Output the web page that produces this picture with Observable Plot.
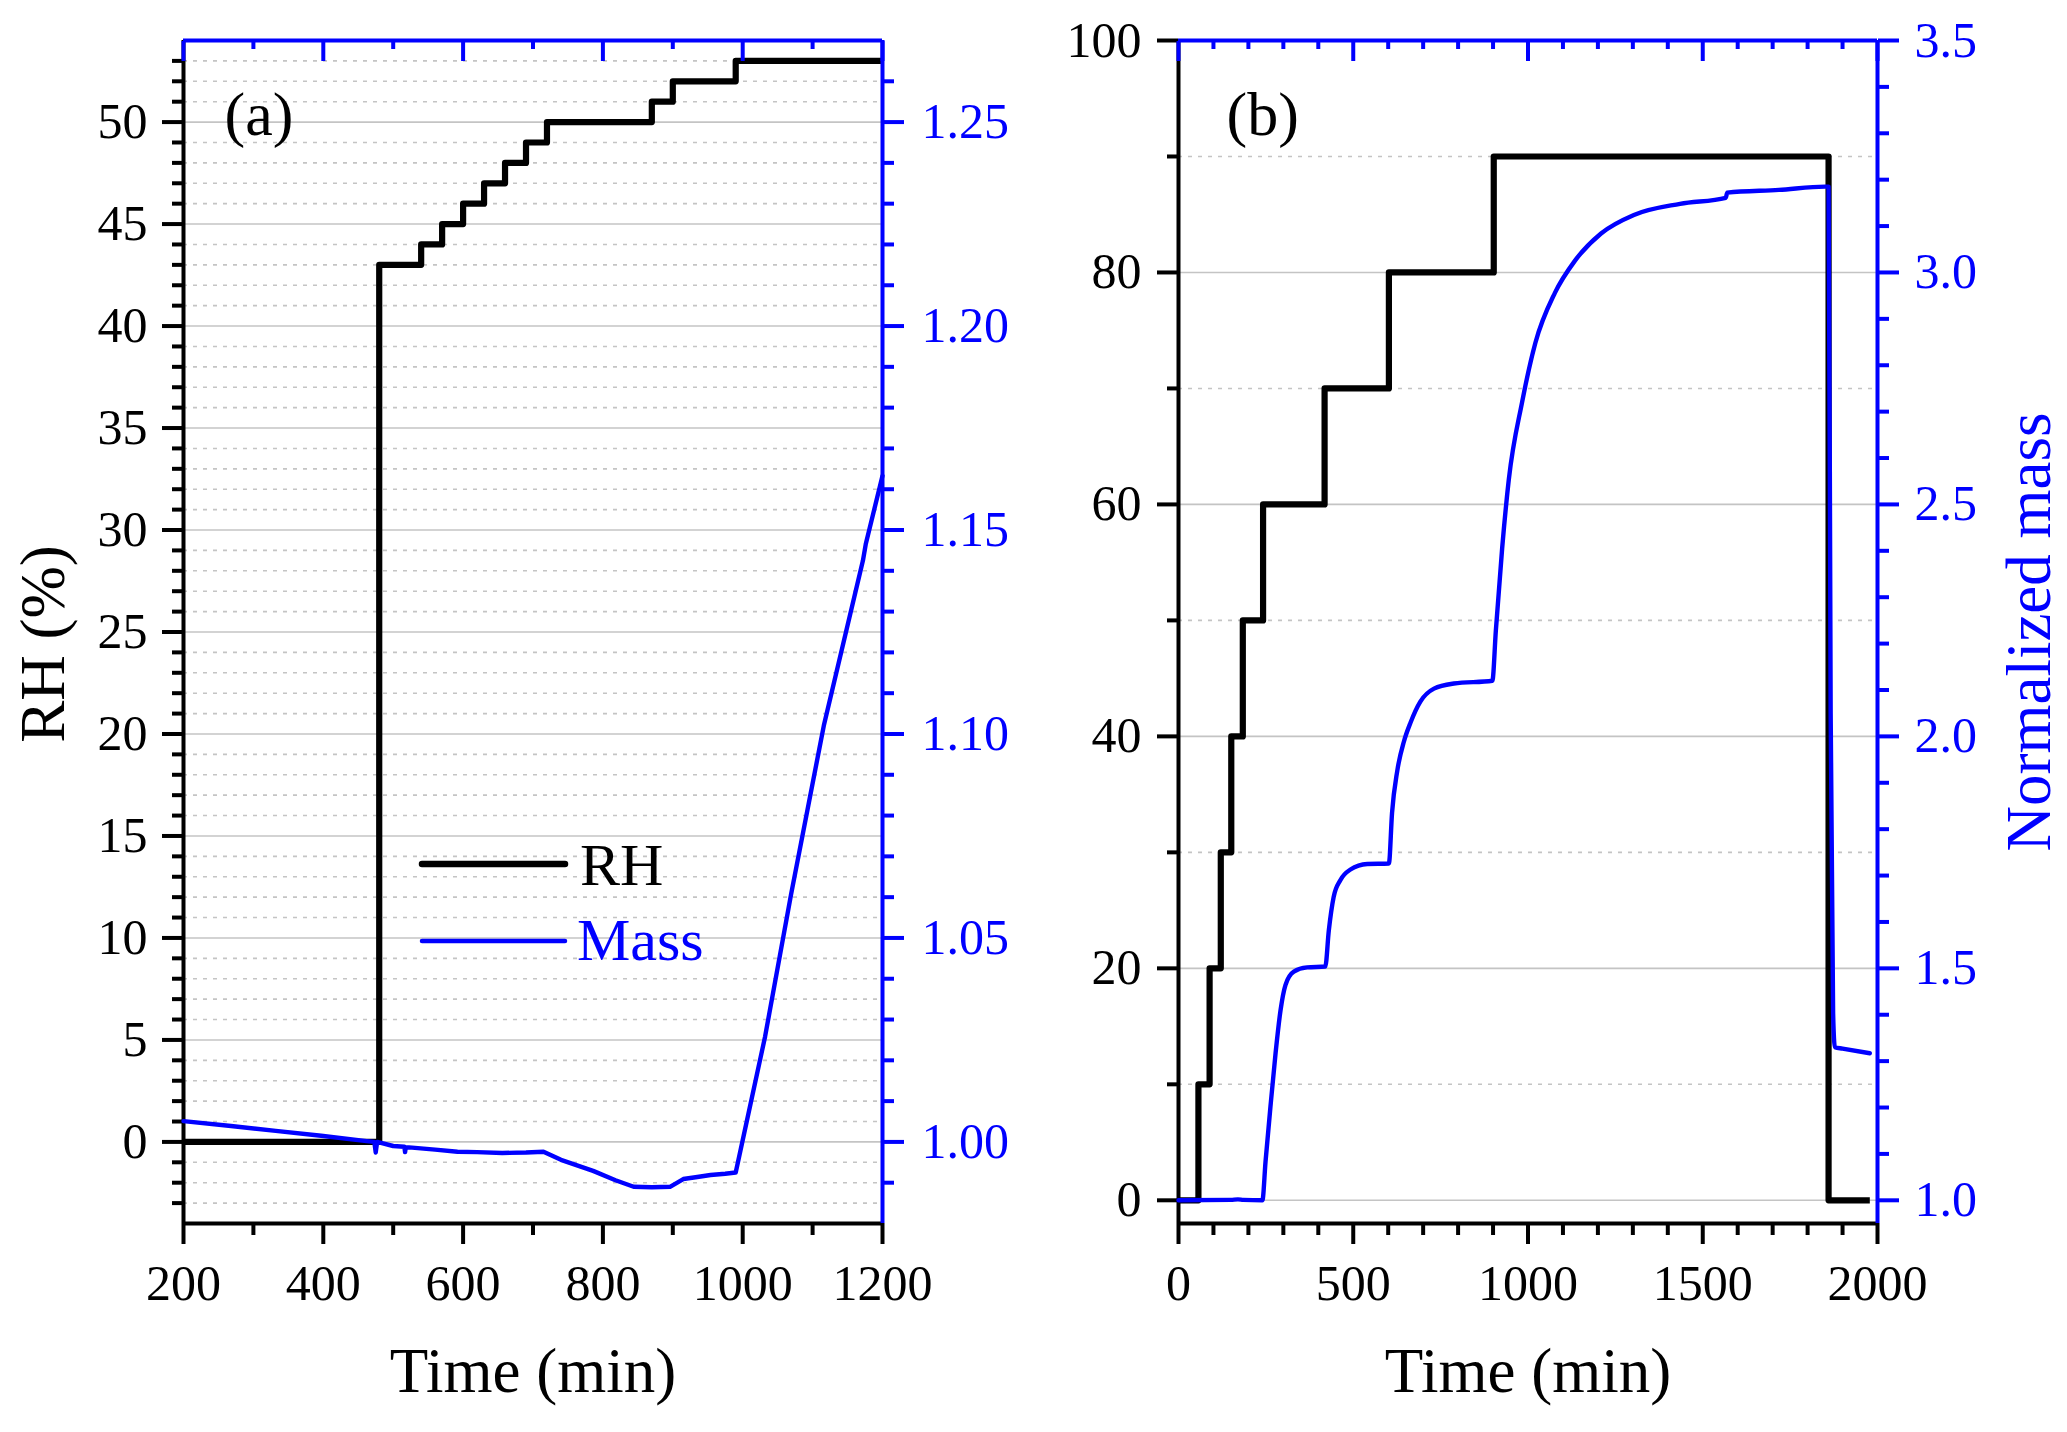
<!DOCTYPE html>
<html>
<head>
<meta charset="utf-8">
<script src="https://cdn.jsdelivr.net/npm/d3@7"></script>
<script src="https://cdn.jsdelivr.net/npm/@observablehq/plot@0.6"></script>
<style>
  body { margin: 0; background: #fff; }
  #figure { position: relative; width: 2067px; height: 1432px; overflow: hidden; }
  .layer { position: absolute; top: 0; }
  .layer svg { display: block; overflow: visible; }
</style>
</head>
<body>
<div id="figure"></div>
<script>
const serif = '"Liberation Serif", "Times New Roman", serif';
const BLUE = "#0000ff";
const GRID = "#c4c4c4";
const H = 1432;

// ---- panel (a): RH steps and normalized mass vs time
const rhTimeA  = [200, 480, 540, 570, 600, 630, 660, 690, 720, 870, 900, 990, 1200];
const rhValueA = [0, 43, 44, 45, 46, 47, 48, 49, 50, 51, 52, 53, 53];
const massTimeA  = [200, 268, 332, 397, 462, 473, 475, 477, 500, 516, 517, 518, 527, 560, 592, 620, 656, 690, 715, 740,
                    786, 818, 844, 870, 896, 915, 935, 954, 975, 990, 1032, 1069, 1116, 1172, 1176, 1200];
const massValueA = [1.0051, 1.0039, 1.0027, 1.0015, 1.0002, 1.0000, 0.9974, 1.0000, 0.9990, 0.9988, 0.9975, 0.9987, 0.9986, 0.9981, 0.9976, 0.9975, 0.9973, 0.9974, 0.9976, 0.9956,
                    0.9929, 0.9906, 0.9890, 0.9889, 0.9890, 0.9909, 0.9914, 0.9919, 0.9922, 0.9925, 1.0258, 1.0605, 1.1020, 1.1425, 1.1465, 1.1633];

// ---- panel (b)
const rhTimeB  = [0, 57, 89, 121, 151, 184, 242, 418, 602, 902, 1860, 1978];
const rhValueB = [0, 10, 20, 30, 40, 50, 60, 70, 80, 90, 0, 0];
const massTimeB  = [0, 150, 170, 185, 240, 249, 263, 278, 292, 306, 330, 368, 420, 430, 444, 463, 492, 540, 602, 611,
                    626, 645, 664, 692, 731, 788, 898, 908, 926, 945, 983, 1021, 1077, 1134, 1209, 1303, 1435, 1566, 1570, 1718,
                    1850, 1860, 1866, 1873, 1878, 1900, 1978];
const massValueB = [1.000, 1.001, 1.002, 1.001, 1.000, 1.083, 1.201, 1.319, 1.410, 1.464, 1.493, 1.502, 1.504, 1.581, 1.654, 1.690, 1.713, 1.725, 1.726, 1.835,
                    1.926, 1.989, 2.030, 2.075, 2.103, 2.114, 2.120, 2.228, 2.405, 2.553, 2.720, 2.848, 2.956, 3.025, 3.084, 3.124, 3.148, 3.161, 3.172, 3.178,
                    3.185, 3.185, 2.050, 1.403, 1.330, 1.327, 1.317];

// ticks
const xTicksA = [200, 400, 600, 800, 1000, 1200];
const xMinorA = [300, 500, 700, 900, 1100];
const rhTicksA = [0, 5, 10, 15, 20, 25, 30, 35, 40, 45, 50];
const rhMinorA = d3.range(-3, 54).filter(v => v % 5 !== 0);
const massTicksA = [1.00, 1.05, 1.10, 1.15, 1.20, 1.25];
const massMinorA = d3.range(99, 127).filter(v => v % 5 !== 0).map(v => v / 100);

const xTicksB = [0, 500, 1000, 1500, 2000];
const xMinorB = d3.range(100, 2000, 100).filter(v => v % 500 !== 0);
const rhTicksB = [0, 20, 40, 60, 80, 100];
const rhMinorB = [10, 30, 50, 70, 90];
const massTicksB = [1.0, 1.5, 2.0, 2.5, 3.0, 3.5];
const massMinorB = d3.range(11, 35).filter(v => v % 5 !== 0).map(v => v / 10);

const rows = (ts, vs) => ts.map((t, i) => ({t, v: vs[i]}));
const none = () => "";

function frameOpts(p, yDomain) {
  return {
    width: p.width, height: H,
    marginTop: 40, marginBottom: 209, marginLeft: p.marginLeft, marginRight: p.marginRight,
    x: {domain: p.xDomain, axis: null, label: null},
    y: {domain: yDomain, axis: null, label: null},
    style: {background: "transparent", fontFamily: serif, overflow: "visible"}
  };
}

function axisY(anchor, ticks, size, format, color, padding) {
  return Plot.axisY({anchor, ticks, tickSize: size, tickPadding: padding, tickFormat: format,
    color, stroke: color, fill: color, strokeWidth: 4, fontSize: 50, label: null});
}
function axisX(anchor, ticks, size, format, color) {
  return Plot.axisX({anchor, ticks, tickSize: size, tickPadding: 20, tickFormat: format,
    color, stroke: color, fill: color, strokeWidth: 4, fontSize: 50, label: null});
}

function rhLayer(p) {
  return Plot.plot({
    ...frameOpts(p, p.rhDomain),
    marks: [
      Plot.ruleY(p.rhMinor, {stroke: GRID, strokeWidth: 1.6, strokeDasharray: "4,6"}),
      Plot.ruleY(p.rhTicks, {stroke: GRID, strokeWidth: 1.6}),
      Plot.line(p.rh, {x: "t", y: "v", curve: "step-after", stroke: "black", strokeWidth: 6.2,
        strokeLinejoin: "round", strokeLinecap: "butt"}),
      Plot.ruleX([p.xDomain[0]], {stroke: "black", strokeWidth: 4}),
      Plot.ruleY([p.rhDomain[0]], {stroke: "black", strokeWidth: 4}),
      axisY("left", p.rhTicks, 21, d3.format("d"), "black", p.leftPad),
      axisY("left", p.rhMinor, 11, none, "black", 0),
      axisX("bottom", p.xTicks, 21, d3.format("d"), "black"),
      axisX("bottom", p.xMinor, 12, none, "black"),
      Plot.text([p.tag], {frameAnchor: "top-left", textAnchor: "start", dx: p.tagDx, dy: 50, fontSize: 62, fill: "black"}),
      Plot.text(["Time (min)"], {frameAnchor: "bottom", dy: 168, fontSize: 63, fill: "black"}),
      ...(p.leftTitle ? [Plot.text([p.leftTitle], {frameAnchor: "left", textAnchor: "middle", rotate: -90, dx: -140, dy: 12, fontSize: 63, fill: "black"})] : [])
    ]
  });
}

function massLayer(p) {
  return Plot.plot({
    ...frameOpts(p, p.massDomain),
    marks: [
      Plot.line(p.mass, {x: "t", y: "v", curve: p.massCurve, stroke: BLUE, strokeWidth: 4.4}),
      Plot.ruleX([p.xDomain[1]], {stroke: BLUE, strokeWidth: 4}),
      Plot.ruleY([p.massDomain[1]], {stroke: BLUE, strokeWidth: 4}),
      axisY("right", p.massTicks, 21, d3.format(p.massFmt), BLUE, p.rightPad),
      axisY("right", p.massMinor, 11, none, BLUE, 0),
      axisX("top", p.xTicks, -20, none, BLUE),
      axisX("top", p.xMinor, -8, none, BLUE),
      ...(p.rightTitle ? [Plot.text([p.rightTitle], {frameAnchor: "right", textAnchor: "middle", rotate: -90, dx: 152, fontSize: 63, fill: BLUE})] : [])
    ]
  });
}

const panelA = {
  left: 0, width: 1030, marginLeft: 183, marginRight: 148,
  xDomain: [200, 1200], rhDomain: [-4, 54], massDomain: [0.98, 1.27],
  rh: rows(rhTimeA, rhValueA), mass: rows(massTimeA, massValueA), massCurve: "linear",
  xTicks: xTicksA, xMinor: xMinorA, rhTicks: rhTicksA, rhMinor: rhMinorA,
  massTicks: massTicksA, massMinor: massMinorA, massFmt: ".2f",
  leftPad: 15, rightPad: 18, tag: "(a)", tagDx: 41, leftTitle: "RH (%)"
};
const panelB = {
  left: 1030, width: 1037, marginLeft: 148, marginRight: 190,
  xDomain: [0, 2000], rhDomain: [-2, 100], massDomain: [0.95, 3.5],
  rh: rows(rhTimeB, rhValueB), mass: rows(massTimeB, massValueB), massCurve: "monotone-x",
  xTicks: xTicksB, xMinor: xMinorB, rhTicks: rhTicksB, rhMinor: rhMinorB,
  massTicks: massTicksB, massMinor: massMinorB, massFmt: ".1f",
  leftPad: 16, rightPad: 16, tag: "(b)", tagDx: 48, rightTitle: "Normalized mass"
};

const fig = document.getElementById("figure");
function place(node, p) {
  const div = document.createElement("div");
  div.className = "layer";
  div.style.left = p.left + "px";
  div.style.width = p.width + "px";
  div.style.height = H + "px";
  div.append(node);
  fig.append(div);
}

for (const p of [panelA, panelB]) {
  place(rhLayer(p), p);
  place(massLayer(p), p);
}

// legend of panel (a)
const legend = d3.create("svg")
  .attr("width", 1030).attr("height", H)
  .style("font-family", serif);
const entries = [
  {label: "RH", color: "black", width: 6.5, y: 864, base: 885, x: 580},
  {label: "Mass", color: BLUE, width: 4.5, y: 941, base: 960, x: 577}
];
for (const e of entries) {
  legend.append("line")
    .attr("x1", 422).attr("x2", 565).attr("y1", e.y).attr("y2", e.y)
    .attr("stroke", e.color).attr("stroke-width", e.width).attr("stroke-linecap", "round");
  legend.append("text")
    .attr("x", e.x).attr("y", e.base)
    .attr("font-size", 60).attr("fill", e.color)
    .text(e.label);
}
place(legend.node(), panelA);
</script>
</body>
</html>
